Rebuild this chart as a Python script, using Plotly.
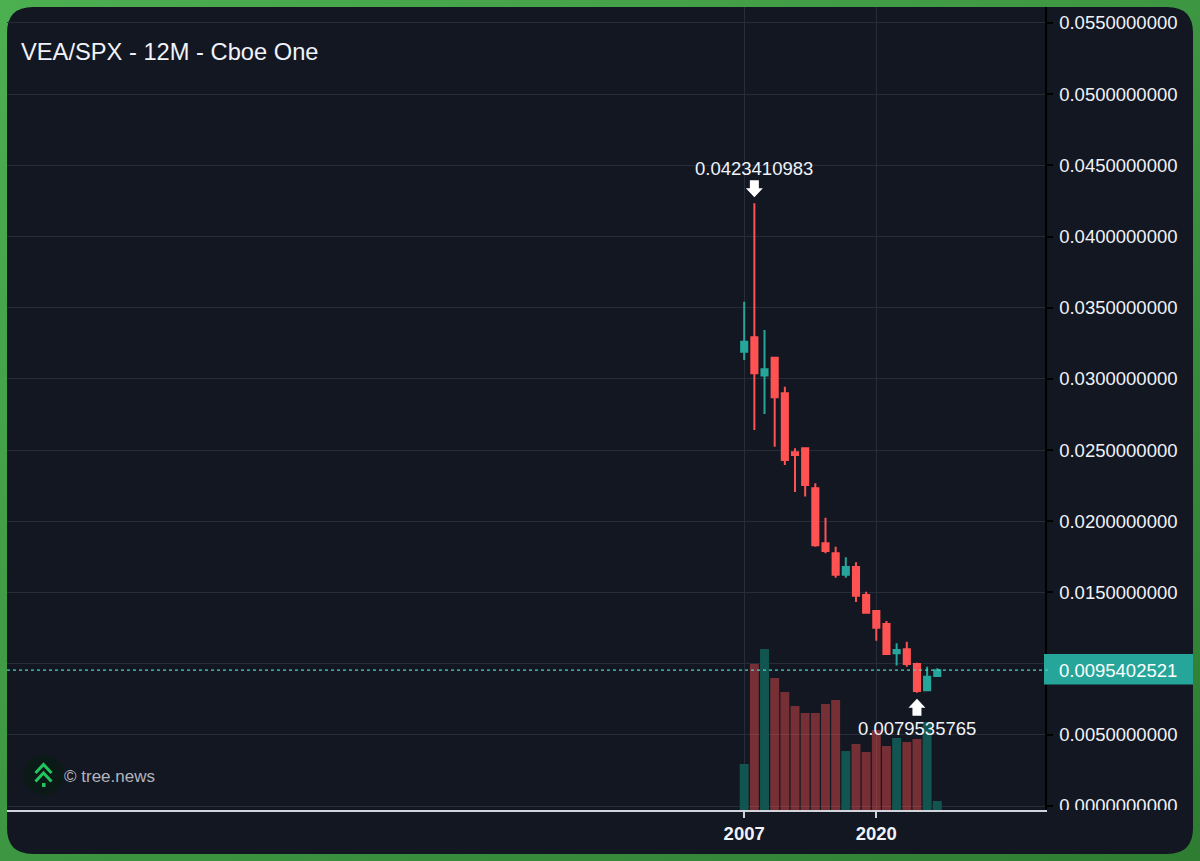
import plotly.graph_objects as go

# Velas anuales VEA/SPX
years = list(range(2007, 2027))
opens = [0.03191, 0.03292, 0.03023, 0.03149, 0.02899, 0.02485, 0.02513, 0.02232, 0.01845, 0.01775,
         0.01625, 0.01679, 0.01482, 0.01370, 0.01278, 0.01073, 0.01101, 0.00997, 0.00813, 0.00913]
highs = [0.03542, 0.0423410983, 0.03344, 0.03154, 0.02945, 0.02513, 0.02515, 0.02267, 0.02025, 0.01821,
         0.01747, 0.01712, 0.01505, 0.01370, 0.01300, 0.01143, 0.01154, 0.01007, 0.00978, 0.00967]
lows = [0.03133, 0.02641, 0.02754, 0.02524, 0.02395, 0.02206, 0.02173, 0.01821, 0.01775, 0.01604,
        0.01604, 0.01433, 0.01351, 0.01161, 0.01061, 0.00986, 0.00978, 0.0079535765, 0.00808, 0.00913]
closes = [0.03261, 0.03039, 0.03068, 0.02871, 0.02430, 0.02466, 0.02255, 0.01831, 0.01791, 0.01625,
          0.01679, 0.01477, 0.01358, 0.01252, 0.01068, 0.01096, 0.00997, 0.00808, 0.00908, 0.0095402521]
volumes = [92, 292, 322, 264, 236, 208, 194, 194, 212, 220,
           118, 132, 116, 160, 128, 144, 136, 142, 176, 18]

price_ticks = [0.0, 0.005, 0.01, 0.015, 0.02, 0.025, 0.03, 0.035, 0.04, 0.045, 0.05, 0.055]
# la etiqueta 0.01 queda tapada por la del ultimo precio
price_labels = ["" if t == 0.01 else f"{t:.10f}" for t in price_ticks]
year_ticks = [2007, 2020]
last_price = closes[-1]

W, H = 1200, 861
PANEL = "#131722"
TEAL = "#26a69a"
RED = "#ff5252"
GRID = "#272c39"
TEXT = "#f0f3fa"
FONT = "Liberation Sans"


def px(x):
    return x / W


def py(y):
    return 1 - y / H


def paper_shape(**kw):
    return dict(xref="paper", yref="paper", **kw)


def rect(x0, y0, x1, y1, color, layer="below"):
    return paper_shape(type="rect", x0=px(x0), x1=px(x1), y0=py(y0), y1=py(y1),
                       fillcolor=color, line=dict(width=0), layer=layer)


def polyline(points, color, width):
    d = "M" + " L".join(f"{px(x)},{py(y)}" for x, y in points)
    return paper_shape(type="path", path=d, line=dict(color=color, width=width), layer="above")


def panel_path(x0, y0, x1, y1, r):
    return (f"M{px(x0 + r)},{py(y0)} L{px(x1 - r)},{py(y0)} Q{px(x1)},{py(y0)} {px(x1)},{py(y0 + r)} "
            f"L{px(x1)},{py(y1 - r)} Q{px(x1)},{py(y1)} {px(x1 - r)},{py(y1)} "
            f"L{px(x0 + r)},{py(y1)} Q{px(x0)},{py(y1)} {px(x0)},{py(y1 - r)} "
            f"L{px(x0)},{py(y0 + r)} Q{px(x0)},{py(y0)} {px(x0 + r)},{py(y0)} Z")


# Flecha blanca anclada al dato, en pixeles (sign=1 apunta abajo, -1 arriba)
def arrow(x_val, y_val, sign):
    pts = [(-4.5, 23), (4.5, 23), (4.5, 15), (8.5, 15), (0, 6), (-8.5, 15), (-4.5, 15)]
    d = "M" + " L".join(f"{a},{sign * b}" for a, b in pts) + " Z"
    return dict(type="path", path=d, xref="x", yref="y2", xsizemode="pixel", ysizemode="pixel",
                xanchor=x_val, yanchor=y_val, fillcolor="white", line=dict(width=0), layer="above")


vol_colors = ["#125550" if c >= o else "rgba(255,82,82,0.42)" for o, c in zip(opens, closes)]

fig = go.Figure()
fig.add_trace(go.Bar(x=years, y=volumes, marker=dict(color=vol_colors, line=dict(width=0)),
                     yaxis="y", hoverinfo="skip"))
fig.add_trace(go.Candlestick(
    x=years, open=opens, high=highs, low=lows, close=closes, yaxis="y2",
    increasing=dict(line=dict(color=TEAL, width=2), fillcolor=TEAL),
    decreasing=dict(line=dict(color=RED, width=2), fillcolor=RED),
    whiskerwidth=0,
))

shapes = [
    paper_shape(type="path", path=panel_path(7, 7, 1193, 854, 26), fillcolor=PANEL,
                line=dict(width=0), layer="below"),
    # etiqueta del ultimo precio
    dict(type="rect", xref="paper", yref="paper", x0=px(1044), x1=px(1193), y0=py(654), y1=py(684.5),
         fillcolor=TEAL, line=dict(width=0), layer="above"),
    dict(type="line", xref="paper", yref="y2", x0=px(7), x1=px(1051), y0=last_price, y1=last_price,
         line=dict(color="#4fd1c5", width=1.2, dash="3px,3px"), layer="above"),
    # el cero queda cortado abajo
    rect(1055, 810, 1190, 830, PANEL, layer="above"),
    arrow(years[highs.index(max(highs))], max(highs), 1),
    arrow(years[lows.index(min(lows))], min(lows), -1),
    # logo
    paper_shape(type="circle", x0=px(24), x1=px(64), y0=py(755), y1=py(795),
                fillcolor="#0c1a17", line=dict(width=0), layer="above"),
    polyline([(35.5, 773), (43.5, 764.5), (51.5, 773)], "#22c55e", 3),
    polyline([(35.5, 781.5), (43.5, 773), (51.5, 781.5)], "#22c55e", 3),
    rect(42, 783, 45.5, 787, "#22c55e", layer="above"),
]

annotations = [
    dict(text="VEA/SPX - 12M - Cboe One", xref="paper", yref="paper", x=px(19), y=py(52),
         xanchor="left", yanchor="middle", showarrow=False, font=dict(size=23.7, color=TEXT)),
    dict(text="© tree.news", xref="paper", yref="paper", x=px(62), y=py(776),
         xanchor="left", yanchor="middle", showarrow=False, font=dict(size=17, color="#b2b5be")),
    dict(text=f"{last_price:.10f}", xref="paper", yref="paper", x=px(1057), y=py(670),
         xanchor="left", yanchor="middle", showarrow=False, font=dict(size=18.5, color="white")),
    dict(text=f"{max(highs):.10f}", x=years[highs.index(max(highs))], xref="x", y=max(highs), yref="y2",
         yshift=35, yanchor="middle", showarrow=False, font=dict(size=18.5, color=TEXT)),
    dict(text=f"{min(lows):.10f}", x=years[lows.index(min(lows))], xref="x", y=min(lows), yref="y2",
         yshift=-36, yanchor="middle", showarrow=False, font=dict(size=18.5, color=TEXT)),
]

x_dom = [px(7), px(1044.5)]
y_dom = [py(810), py(7)]

fig.update_layout(
    width=W,
    height=H,
    margin=dict(l=0, r=0, t=0, b=0),
    paper_bgcolor="rgba(0,0,0,0)",
    plot_bgcolor="rgba(0,0,0,0)",
    showlegend=False,
    hovermode=False,
    bargap=0.12,
    boxgap=0.14,
    font=dict(family=FONT, color=TEXT, size=18.5),
    shapes=shapes,
    annotations=annotations,
    xaxis=dict(domain=x_dom, range=[1934.46, 2036.55], tickmode="array", tickvals=year_ticks,
               ticktext=[str(y) for y in year_ticks], showgrid=True, gridcolor=GRID, gridwidth=1,
               zeroline=False, showline=True, linecolor="#d1d4dc", linewidth=2, automargin=False,
               ticks="outside", ticklen=6, tickcolor="#d1d4dc", tickwidth=2,
               tickfont=dict(size=18.5, color=TEXT, weight=700), rangeslider=dict(visible=False)),
    yaxis=dict(domain=y_dom, range=[0, 1606], visible=False, fixedrange=True, automargin=False),
    yaxis2=dict(overlaying="y", side="right", anchor="x", range=[-0.000281, 0.05612],
                tickmode="array", tickvals=price_ticks, ticktext=price_labels,
                showgrid=True, gridcolor=GRID, gridwidth=1, zeroline=False, automargin=False,
                showline=True, linecolor="#000000", linewidth=2, ticklabelstandoff=3,
                ticks="outside", ticklen=6, tickcolor="#000000", tickwidth=2,
                tickfont=dict(size=18.5, color=TEXT)),
)

page_style = ("document.documentElement.style.height='100%';"
              "document.body.style.margin='0';document.body.style.overflow='hidden';"
              "document.body.style.height='100%';"
              "document.body.style.background='linear-gradient(to bottom right,#4caf50,#2e7d32)';")

fig.write_html("out.html", config=dict(displayModeBar=False), post_script=page_style)
